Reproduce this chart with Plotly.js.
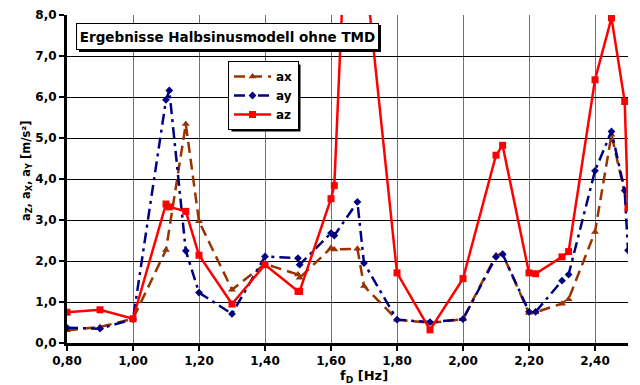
<!DOCTYPE html>
<html>
<head>
<meta charset="utf-8">
<script src="https://cdn.plot.ly/plotly-3.0.1.min.js"></script>
<style>
  html, body { margin: 0; padding: 0; background: #fff; }
  #chart { width: 640px; height: 385px; }
</style>
</head>
<body>
<div id="chart"></div>
<script>
// Excitation frequency f_D [Hz]
const freq = [0.80, 0.90, 1.00, 1.10, 1.11, 1.16, 1.20, 1.30, 1.40, 1.50, 1.505, 1.60, 1.61, 1.68, 1.70,
              1.80, 1.90, 2.00, 2.10, 2.12, 2.20, 2.22, 2.30, 2.32, 2.40, 2.45, 2.49, 2.50];

// Accelerations [m/s²]
const ax = [0.31, 0.39, 0.59, 2.27, null, 5.34, 2.97, 1.30, 1.93, 1.67, 1.59, 2.32, 2.28, 2.30, 1.39,
            0.57, 0.49, 0.58, 2.14, 2.17, 0.73, 0.75, 0.96, 1.07, 2.71, 5.08, null, 3.30];
const ay = [0.37, 0.35, 0.58, 5.93, 6.16, 2.25, 1.23, 0.71, 2.11, 2.07, 1.91, 2.68, 2.62, 3.44, 1.95,
            0.57, 0.51, 0.58, 2.10, 2.17, 0.76, 0.76, 1.52, 1.67, 4.20, 5.16, 3.72, 2.26];
const az = [0.75, 0.81, 0.59, 3.39, 3.32, 3.21, 2.14, 0.95, 1.91, 1.26, 1.26, 3.52, 3.84, 16.8, 9.4,
            1.71, 0.32, 1.57, 4.58, 4.82, 1.71, 1.69, 2.10, 2.23, 6.42, 7.93, 5.89, 3.29];

const seriesNames = ['ax', 'ay', 'az'];
const chartTitle = 'Ergebnisse Halbsinusmodell ohne TMD';
const xTitle = 'f<sub>D</sub> [Hz]';
const yTitle = 'a<sub>Z</sub>, a<sub>X</sub>, a<sub>Y</sub> [m/s²]';

const FONT = 'DejaVu Sans, Arial, sans-serif';

// plot area in pixels, used to place the boxes and titles in paper units
const PL = 67, PR = 628, PT = 15, PB = 343;
const px = v => (v - PL) / (PR - PL);
const py = v => (PB - v) / (PB - PT);

const traces = [
  {
    x: freq, y: ax, name: seriesNames[0], type: 'scatter', mode: 'lines+markers', connectgaps: true,
    line: { color: '#993300', width: 2.5, dash: '11px,6px' },
    marker: { symbol: 'triangle-up', size: 7, color: '#993300' }
  },
  {
    x: freq, y: ay, name: seriesNames[1], type: 'scatter', mode: 'lines+markers', connectgaps: true,
    line: { color: '#000080', width: 2.5, dash: '11px,5px,3px,5px' },
    marker: { symbol: 'diamond', size: 6, color: '#000080' }
  },
  {
    x: freq, y: az, name: seriesNames[2], type: 'scatter', mode: 'lines+markers',
    line: { color: '#ff0000', width: 2.5 },
    marker: { symbol: 'square', size: 7, color: '#ff0000' }
  }
];

const tickFont = { family: FONT, size: 12, color: '#000', weight: 'bold' };
const boldFont = (size) => ({ family: FONT, size: size, color: '#000', weight: 'bold' });

const layout = {
  width: 640, height: 385,
  margin: { l: PL, r: 640 - PR, t: PT, b: 385 - PB },
  paper_bgcolor: '#fff', plot_bgcolor: '#fff',
  separators: ', ',
  showlegend: true,
  legend: {
    x: px(228), y: py(61), xanchor: 'left', yanchor: 'top',
    bgcolor: '#fff', bordercolor: '#000', borderwidth: 1,
    font: boldFont(12),
    itemwidth: 37
  },
  xaxis: {
    range: [0.8, 2.5], tick0: 0.8, dtick: 0.2, tickformat: '.2f',
    showgrid: true, gridcolor: '#707070', gridwidth: 1,
    zeroline: false, showline: true, linecolor: '#000', linewidth: 3,
    ticks: 'outside', ticklen: 5, tickwidth: 2, tickcolor: '#000',
    tickfont: tickFont
  },
  yaxis: {
    range: [0, 8], tick0: 0, dtick: 1, tickformat: '.1f',
    showgrid: true, gridcolor: '#000', gridwidth: 1,
    zeroline: false, showline: true, linecolor: '#000', linewidth: 3,
    ticks: 'outside', ticklen: 5, tickwidth: 2, tickcolor: '#000',
    tickfont: tickFont
  },
  // inner half of the crossing tick marks
  xaxis2: {
    overlaying: 'x', matches: 'x', anchor: 'y', side: 'bottom',
    range: [0.8, 2.5], tick0: 0.8, dtick: 0.2,
    showgrid: false, zeroline: false, showline: false, showticklabels: false,
    ticks: 'inside', ticklen: 5, tickwidth: 2, tickcolor: '#000'
  },
  yaxis2: {
    overlaying: 'y', matches: 'y', anchor: 'x', side: 'left',
    range: [0, 8], tick0: 0, dtick: 1,
    showgrid: false, zeroline: false, showline: false, showticklabels: false,
    ticks: 'inside', ticklen: 5, tickwidth: 2, tickcolor: '#000'
  },
  shapes: [
    // drop shadow behind the title box
    { type: 'rect', xref: 'paper', yref: 'paper', layer: 'above',
      x0: px(79), x1: px(381), y0: py(52), y1: py(25),
      fillcolor: '#000', line: { width: 0 } }
  ],
  annotations: [
    {
      xref: 'paper', yref: 'paper', x: px(227.5), y: py(36.4), xanchor: 'center', yanchor: 'middle',
      text: chartTitle, showarrow: false, width: 297, height: 21,
      font: boldFont(13.5),
      bgcolor: '#fff', bordercolor: '#000', borderwidth: 1, borderpad: 2
    },
    {
      xref: 'paper', yref: 'paper', x: px(364), y: py(376), xanchor: 'center', yanchor: 'middle',
      text: xTitle, showarrow: false, font: boldFont(13)
    },
    {
      xref: 'paper', yref: 'paper', x: px(26), y: py(171), xanchor: 'center', yanchor: 'middle',
      text: yTitle, showarrow: false, textangle: -90, font: boldFont(11.5)
    }
  ]
};

const gd = document.getElementById('chart');
Plotly.newPlot(gd, traces, layout, { displayModeBar: false, staticPlot: true }).then(() => {
  // add a drop shadow matching the drawn legend box
  const bg = gd.querySelector('.legend .bg');
  if (!bg) return;
  const host = gd.getBoundingClientRect();
  const r = bg.getBoundingClientRect();
  const left = r.left - host.left, right = r.right - host.left;
  const top = r.top - host.top, bottom = r.bottom - host.top;
  const shadow = { type: 'rect', xref: 'paper', yref: 'paper', layer: 'above',
    x0: px(left + 3), x1: px(right + 2), y0: py(bottom + 2), y1: py(top + 3),
    fillcolor: '#000', line: { width: 0 } };
  return Plotly.relayout(gd, { shapes: layout.shapes.concat([shadow]) });
});
</script>
</body>
</html>
